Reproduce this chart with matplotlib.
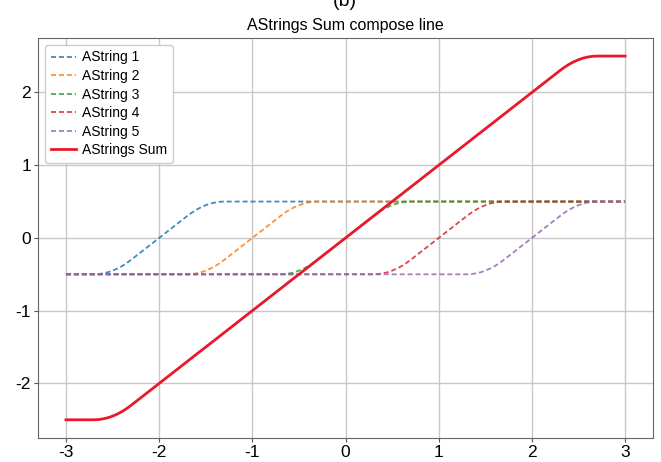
import numpy as np
import matplotlib
matplotlib.use("Agg")
import matplotlib.pyplot as plt

plt.rcParams['font.family'] = ['Liberation Sans', 'DejaVu Sans']
plt.rcParams['axes.unicode_minus'] = False

# sample positions along x
x = np.linspace(-3, 3, 121)

# rising part of each string (0.05 steps, centred on the string's position)
ramp = [-0.497, -0.487, -0.472, -0.45, -0.422, -0.388, -0.347, -0.3, -0.25,
        -0.2, -0.15, -0.1, -0.05, 0.0, 0.05, 0.1, 0.15, 0.2, 0.25, 0.3,
        0.347, 0.388, 0.422, 0.45, 0.472, 0.487, 0.497]

astring1 = [-0.5] * 7 + ramp + [0.5] * 87
astring2 = [-0.5] * 27 + ramp + [0.5] * 67
astring3 = [-0.5] * 47 + ramp + [0.5] * 47
astring4 = [-0.5] * 67 + ramp + [0.5] * 27
astring5 = [-0.5] * 87 + ramp + [0.5] * 7

strings = [astring1, astring2, astring3, astring4, astring5]
labels = ['AString 1', 'AString 2', 'AString 3', 'AString 4', 'AString 5']
colors = ['#1f77b4', '#ff7f0e', '#2ca02c', '#d62728', '#9467bd']

total = np.sum(np.array(strings), axis=0)

fig = plt.figure(figsize=(6.61, 4.62), dpi=100)
ax = fig.add_axes([0.0575, 0.052, 0.9305, 0.866])

for s, lab, c in zip(strings, labels, colors):
    ax.plot(x, s, '--', color=c, lw=1.3, alpha=0.85, dashes=(2.8, 1.6), label=lab)
ax.plot(x, total, color='#e8192c', lw=2, label='AStrings Sum')

ax.set_xlim(-3.3, 3.3)
ax.set_ylim(-2.75, 2.75)
ax.set_xticks([-3, -2, -1, 0, 1, 2, 3])
ax.set_yticks([-2, -1, 0, 1, 2])
ax.grid(True, color='#c8c8c8', lw=1)
ax.set_axisbelow(True)
ax.tick_params(labelsize=12.5, length=3, color='#555555', pad=2)
for sp in ax.spines.values():
    sp.set_color('#666666')

ax.set_title('AStrings Sum compose line', fontsize=11.5, pad=6)
fig.text(0.522, 0.997, '(b)', ha='center', va='center', fontsize=14)

leg = ax.legend(loc='upper left', fontsize=10, handlelength=1.8,
                labelspacing=0.33, borderpad=0.4, handletextpad=0.5,
                framealpha=1, edgecolor='#cccccc')

fig.savefig('out.png', dpi=100)
